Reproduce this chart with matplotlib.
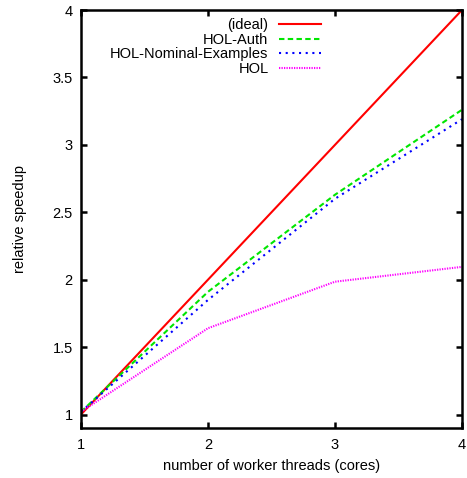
import matplotlib
matplotlib.use('Agg')
import matplotlib.pyplot as plt

plt.rcParams['font.family'] = ['Liberation Sans', 'DejaVu Sans']
plt.rcParams['font.size'] = 10.5

threads = [1, 2, 3, 4]
ideal = [1.0, 2.0, 3.0, 4.0]
hol_auth = [1.02, 1.91, 2.63, 3.26]
hol_nominal = [1.02, 1.85, 2.60, 3.19]
hol = [1.02, 1.64, 1.985, 2.095]

fig = plt.figure(figsize=(4.67, 4.78), dpi=100)
ax = fig.add_axes([81 / 467, 1 - 428 / 478, 381 / 467, 418 / 478])

ax.plot(threads, ideal, color='#ff0000', lw=1.5, label='(ideal)')
ax.plot(threads, hol_auth, color='#00e600', lw=1.5, ls=(0, (2.6, 1.6)), label='HOL-Auth')
ax.plot(threads, hol_nominal, color='#0000ff', lw=1.5, ls=(0, (1, 2.2)), label='HOL-Nominal-Examples')
ax.plot(threads, hol, color='#ff00ff', lw=1.5, ls=(0, (0.6, 0.6)), label='HOL')

ax.set_xlim(1, 4)
ax.set_ylim(0.9, 4)
ax.set_xticks([1, 2, 3, 4])
ax.set_yticks([1, 1.5, 2, 2.5, 3, 3.5, 4])
ax.set_yticklabels(['1', '1.5', '2', '2.5', '3', '3.5', '4'])
ax.tick_params(direction='in', length=4.5, width=1.8, top=True, right=True)
ax.tick_params(axis='x', pad=7)
ax.tick_params(axis='y', pad=6)
for s in ax.spines.values():
    s.set_linewidth(1.8)

ax.set_xlabel('number of worker threads (cores)', labelpad=5)
ax.set_ylabel('relative speedup', labelpad=18)

leg = ax.legend(loc='upper right', bbox_to_anchor=((321 - 81) / 381, 1 - 8 / 418),
                frameon=False, markerfirst=False, borderpad=0, borderaxespad=0,
                handlelength=2.9, handletextpad=0.7, labelspacing=0.05)

plt.savefig('out.png', dpi=100)
